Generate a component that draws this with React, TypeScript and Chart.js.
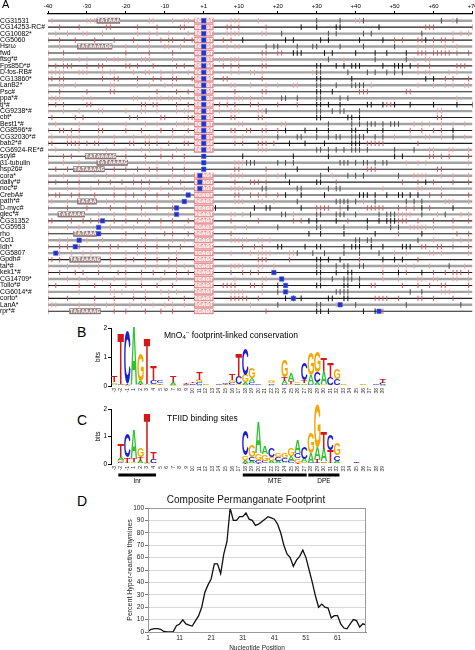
import React, { useEffect, useRef } from 'react';
import { Chart, registerables } from 'chart.js';
Chart.register(...registerables);

const FONT = '"Liberation Sans", Arial, Helvetica, sans-serif';

// ---------------- Panel A data ----------------
const genes = ['CG31531','CG14253-RC#','CG10082*','CG5060','Hsrω','fwd','ftsg*#','Fps85D*#','D-fos-RB#','CG13860*','LanB2*','Psc#','ppa*#','tj*#','CG9238*#','cbt*','Best1*#','CG8596*#','CG32030*#','bab2*#','CG6924-RE*#','scyl#','β1-tubulin','hsp26#','cora*','dally*#','noc*#','CrebA#','path*#','D-myc#','glec*#','CG31352','CG5953','rho','Cct1','Idh*','CG5807','Gpdh#','tai*#','kek1*#','CG14709*','Tollo*#','CG6014*#','corto*','LanA*','rpr*#'];

const axisPositions = [-40, -30, -20, -10, 1, 10, 20, 30, 40, 50, 60, 70];

const redTicks: number[][] = [
  [-39,-30,-29,-28,-14,-13,-8,-5,-4,8,9,10,15,40,41,65],
  [-37,-32,-25,-24,-17,-12,-6,-5,7,8,10,17,58,59,60,70],
  [-38,-35,-31,-30,-26,-17,-14,-12,-9,-4,7,8,9,10,16,17,65,67,69],
  [-40,-37,-33,-28,-23,-18,-14,-11,-9,-8,-5,-3,6,8,50,52,56,57,60,62,63,65],
  [-37,-20,-17,-14,-10,-9,-6,7,9,10,56,58,60,63,66],
  [-40,-36,-20,-14,-8,16,17,20,21,56,57,58,60,61,62,63,64,66,69],
  [-40,-36,-32,-30,-25,-23,-22,-20,-16,-15,-14,-8,5,6,8,9,10,16,17,37,55,58,59],
  [-40,-38,-36,-35,-34,-30,-27,-26,-20,-19,-17,-13,-7,-5,6,8,10,16,17,56,59,66,67,68],
  [-40,-39,-38,-37,-36,-32,-31,-30,-26,-24,-23,-18,-15,-14,-11,-8,-4,8,10,13,14,16,29,56,58,59,64,66],
  [-40,-39,-37,-36,-26,-23,-22,-17,-13,-11,-8,-7,-3,6,7,16,63,65,69],
  [-40,-37,-36,-33,-24,-23,-17,-14,-10,-8,8,9,13,17,20,24,25,44,56,60,63,65,68,69],
  [-40,-37,-30,-24,-23,-12,-7,-4,9,16,17,41,42,43,53,54],
  [-40,-39,-38,-37,-31,-29,-18,-17,-14,-12,-11,-9,-8,-6,7,9,10,11,13,16,66],
  [-40,-38,-36,-30,-29,-16,-15,-13,-12,-7,-4,5,7,9,13,15,20,25,48,49],
  [-40,-36,-32,-27,-26,-20,-16,-15,-12,-7,-5,-4,5,8,9,10,15,16,61,62],
  [-39,-33,-31,-19,-17,-11,-10,-4,-3,8,9,15,16,61,62],
  [-38,-32,-27,-20,-15,-12,-7,-5,-4,10,11,17,21,22,55,57,59,62,65,68],
  [-40,-37,-36,-34,-32,-27,-26,-20,-16,-11,-8,-4,8,9,12,13,16,17,20,54,57,60,62],
  [-39,-35,-34,-32,-27,-23,-18,-15,-14,-12,-8,-5,9,11,16,50,54,58,59,62,68],
  [-40,-39,-35,-34,-33,-32,-30,-28,-27,-23,-19,-18,-15,-14,-12,-9,-5,-4,9,11,15,16,17,19,43,44,45,46,47,56],
  [-38,-32,-25,-20,-16,-14,-11,-7,15,16,17,59,60,64,65,69],
  [-40,-36,-34,-20,-15,-11,-8,-5,59,60,62,64,69],
  [-40,-36,-32,-15,-12,-9,-5,9,10,11,53,56,58,69],
  [-38,-35,-23,-20,-17,-14,-12,-8,-5,9,10,17,43,44,45,61,62],
  [-40,-36,-32,-28,-25,-23,-18,-15,-12,-8,-5,8,9,10,11,17,20,34,55,56,57,58,62,65,69],
  [-40,-38,-35,-32,-27,-24,-21,-18,-16,-14,-9,-6,9,13,14,15,17,35,52,56,60,65,69],
  [-40,-35,-32,-29,-23,-20,-16,-14,-11,-8,-5,8,9,10,11,47,56,57,62],
  [-40,-38,-37,-34,-32,-28,-23,-20,-18,-15,-12,-9,9,10,13,15,17,20,59,62,69],
  [-40,-39,-35,-25,-23,-20,-17,-15,-12,-8,9,10,11,15,16,19,42,63,64,65,69],
  [-40,-35,-30,-24,-20,-16,-12,-8,30,31,32,33,36,43,44,45,46,47,51,53,55,59],
  [-27,-23,-20,-16,-15,-9,8,9,11,24,51,52,53,54,61,67,69],
  [-40,-39,-34,-31,-29,-27,-23,-20,-17,-14,-11,-8,-4,8,15,24,26,38,51,52,53,56,60,65,69],
  [-40,-35,-32,-24,-21,-18,-15,-11,-8,-5,9,12,54,55,56,57,58,60,65],
  [-40,-20,-15,-10,-8,-4,8,51,66,69],
  [-40,-37,-35,-30,-26,-21,-20,-16,-15,-12,-8,-5,8,9,10,11,12,15,16,18,60,65,67,69],
  [-40,-37,-35,-32,-27,-24,-22,-17,-15,-12,-9,-6,11,14,16,57,58,61,62,65,69],
  [-37,-34,-31,-29,-24,-20,-17,-15,-12,-7,8,13,15,16,17,18,23,24,50,53,59,60,62,69],
  [-40,-39,-37,-24,-20,-18,-15,-12,-9,-7,15,16,17,23,41,56],
  [-40,-35,-32,-27,-24,-20,-15,-12,-9,-7,-5,8,9,10,11,15,16,19,47,51,53,55,59,68],
  [-40,-37,-33,-31,-27,-22,-20,-16,-13,-10,-7,-4,8,11,13,15,47,53,60,63,65,66,67,69],
  [-40,-35,-32,-30,-26,-23,-20,-16,-11,-7,9,16,17,47,51,56,57,60,61,65,66,69],
  [-40,-38,-32,-28,-24,-20,-16,-12,-8,6,7,8,9,13,14,16,44,45,52,56,59,62,63,69],
  [-40,-32,-24,-23,-21,-18,-15,-11,-9,-7,8,9,10,11,16,62,63,64,69],
  [-40,-35,-28,-23,-18,-15,-9,-5,8,9,10,11,12,15,45,46,47,48,51,56,57,60,65],
  [-40,-39,-38,-32,-28,-25,-23,-19,-16,-13,-10,-8,-5,13,35],
  [-40,-23,-20,-15,-11,-8,17,47],
];

const blackTicks: number[][] = [
  [30,36,42,62,66],
  [26,30,35,36,46],
  [21,33,35,42,44,57],
  [11,22,24,31,33,41,47,58],
  [17,19,20,25,29,30,36,42,50],
  [24,25,26,32,34,40,45,48,53],
  [33,45,53],
  [30,31,35,37,39,40,41,47,50,51,52,54],
  [30,31,38,43,45,48,50,52],
  [30,31,39,58,60],
  [30,31,35,39,40,41,42],
  [30,31,34],
  [21,22,25,30,31,36,38],
  [30,31,33,36,43,44,47,50,54,60,66,70],
  [17,30,31,34,36,37,41],
  [30,31,38,39,41],
  [33,39,41,43,44,45,47,49,50,51],
  [22,27,30,33,39,40,43,47,65],
  [20,25,26,30,33,35,36,39,40,41,42,45,47,65],
  [23,27,32,39,40,41],
  [30,31,33,35,37,39,40,41,43,50,55],
  [11,24,33,50,52],
  [12,13,14,20,22,24,36,37,38,40,42,43,45,47,48],
  [25,33],
  [22,31,38,40,42,51],
  [23,30,31,58],
  [16,17,25,26,33,35,36],
  [22,26,32,41,42,43,45,48,51,52,54,56],
  [25,35,36,37,38,40,45,53,55,57],
  [4,14,17,18,26,38,57,65],
  [13,21,22,30,31,35,36,37,40,46,48,49,50,57,63],
  [28,30,35,43,46,48,49,50],
  [20,30,31,37,43,49,51],
  [28,31,37,45,57],
  [40,41,43,44,56],
  [20,21,27,30,31,37,39,40,41,44,47,52,53,54],
  [25,29,32,37,41,46],
  [30,31,33,36,47,50,52],
  [30,31,35,37,38,41,42,64],
  [30,31,35,38,39,51,57],
  [31,34,37,38,39,41],
  [20,30,31,37,38,41],
  [20,35,36,37,38,54,57],
  [22,24,26,33,34,37,38],
  [20,30,31,40,53,67],
  [30,31,33,42,45],
];

const bluePos: (number | null)[] = [
  1,1,1,1,1,1,1,1,1,1,1,1,1,1,1,1,1,1,1,1,1,1,1,1,
  -1,-1,-1,-4,-5,-7,-7,-26,-27,-27,-32,-33,-38,null,null,19,21,22,22,24,36,46,
];

const inrSpan = [-2, 3];
const inrSeq = 'TCAGT';
const rowsWithoutInr = [21, 22, 23];
const tataBoxes: number[][] = [
  [0,-27,-22],[4,-32,-24],[21,-30,-23],[22,-27,-20],[23,-33,-26],
  [28,-32,-28],[30,-37,-31],[33,-33,-28],[37,-34,-27],[45,-34,-27],
];
const tataSeq = 'TATAAAAGGC';

// ---------------- Panels B / C data ----------------
const logoPositions = ['-3','-2','-1','1','2','3','4','5','6','7','8','9','10','11','12','13','14','15','16','17','18','19','20','21','22','23','24','25','26','27','28','29','30','31','32','33','34','35','36','37','38','39'];

const bA = [.05,.02,.02,2.0,.1,.06,.02,.02,.01,.1,.01,.01,.02,.04,.02,0,.01,.02,.02,.02,.1,.15,.01,0,.03,.01,.12,.25,.04,.06,.3,.1,.45,.02,.02,.02,0,.01,.02,.01,.01,.04];
const bC = [.03,.02,1.8,0,.02,0,.15,.07,.01,.01,.01,.04,.04,.08,.01,0,.02,.04,.08,.25,.9,.1,.02,0,.05,.01,.06,.02,.03,.6,.05,.35,.03,.27,.2,.01,0,.01,.01,.01,.02,.07];
const bG = [.05,.03,.01,.02,.95,.02,.04,.06,.01,.02,.01,.02,.03,.1,.03,0,.01,.03,.1,.03,.25,.37,.01,0,.07,.01,.6,.05,.05,.05,.75,.7,.03,.02,.35,.03,0,.01,.03,.01,.01,.01];
const bT = [.22,1.75,.05,0,.05,1.58,.5,.02,.01,.2,.01,.05,.06,.25,.01,0,.01,.02,.22,.8,.02,.03,.01,0,.01,.01,.12,.1,.02,.1,.02,.02,.45,.5,.02,.01,0,.01,.01,.01,.01,.15];

const cA = [.01,.1,.03,1.05,.07,.02,.02, 0,0,0,0,0,0,0,0,0,0,0,0, .01,.1,.1,1.15,.3,.1,.08,.06,.2,.45,.12,.35,.4,.45,.03,.1, 0,0,.01,0,0,0,0];
const cC = [.01,.07,.85,.02,.03,.01,.12, 0,0,0,0,0,0,0,0,0,0,0,0, .01,.9,.12,.1,.08,.32,.15,.12,.08,.2,.45,.03,.05,.05,.55,.2, 0,0,.02,0,0,0,0];
const cG = [.01,.08,.02,.05,.32,.02,.02, 0,0,0,0,0,0,0,0,0,0,0,0, .01,.15,.45,.25,.25,.12,.16,.18,.3,.15,.05,.75,1.6,.05,.02,.45, 0,0,.01,0,0,0,0];
const cT = [.01,.45,.2,.15,.15,1.8,.3, 0,0,0,0,0,0,0,0,0,0,0,0, .01,.05,.02,.04,.02,.02,.02,.02,.02,.05,.02,.02,.15,.6,.45,.02, 0,0,.02,0,0,0,0];

const cMotifs = [
  { name: 'Inr', from: '-2', to: '4' },
  { name: 'MTE', from: '18', to: '27' },
  { name: 'DPE', from: '28', to: '32' },
];

const letterColors: Record<string, string> = { A: '#2fc42f', C: '#1d1dd8', G: '#f5a700', T: '#d21818' };

// ---------------- Panel D data ----------------
const nucleotides = Array.from({ length: 70 }, (_, i) => i + 1);
const footprint = [0.5,2.2,2.8,2.7,2.2,0.4,0,0,0.3,5,6.5,9.8,6.5,5.5,4.8,9,13,20,32,38,43,55,55,47,63,73,100,90,90,93,93,96,91,90,86,87,89,91,93,92,91,87,80,70,63,60,53,58,61,66,60,50,40,29,20,22.5,20,19.3,11.4,13.2,13.2,6.6,3.2,2.6,6.6,10,9.2,4,6.6,5.8];

// ---------------- helpers ----------------
const toU = (p: number) => (p < 0 ? p : p - 1);
const uLabel = (u: number) => (u < 0 ? String(u) : '+' + (u + 1));

function useChart(build: (c: HTMLCanvasElement) => any) {
  const ref = useRef<HTMLCanvasElement>(null);
  useEffect(() => {
    if (!ref.current) return;
    const chart = build(ref.current);
    return () => chart.destroy();
  }, []);
  return ref;
}

function Cnv({ r, left, top, w, h }: any) {
  return <canvas ref={r} width={w} height={h} style={{ position: 'absolute', left, top, width: w, height: h }} />;
}

function Txt({ x, y, size, children, weight }: any) {
  return (
    <div style={{ position: 'absolute', left: x, top: y - 0.8465 * size, fontSize: size, lineHeight: 1, whiteSpace: 'nowrap', color: '#000', fontFamily: FONT, fontWeight: weight || 'normal' }}>
      {children}
    </div>
  );
}

// ---------------- Panel A ----------------
function PanelA() {
  const W = 484, H = 320;
  const ref = useChart((canvas) => {
    const rowLines = genes.map((g, i) => ({
      label: g,
      data: [{ x: -40, y: i }, { x: 69, y: i }],
      showLine: true,
      borderColor: i % 2 === 0 ? '#a3a3a3' : '#1e1e1e',
      borderWidth: i % 2 === 0 ? 2.4 : 1.1,
      pointRadius: 0,
      order: 20,
    }));
    const tickSet = (src: number[][], parity: number, color: string, r: number) => ({
      data: src.flatMap((row, i) => (i % 2 === parity ? row.map((p) => ({ x: toU(p), y: i })) : [])),
      pointStyle: 'line', rotation: 90, pointRadius: r, borderColor: color, backgroundColor: color,
      borderWidth: 1, showLine: false, order: 10,
    });
    const blueIndex = genes.length + 4;
    const datasets: any[] = [
      ...rowLines,
      tickSet(redTicks, 0, '#efa2a2', 2.6),
      tickSet(redTicks, 1, '#d65656', 2.6),
      tickSet(blackTicks, 0, '#4a4a4a', 2.8),
      tickSet(blackTicks, 1, '#111111', 2.8),
      {
        data: bluePos.map((p, i) => (p === null ? null : { x: toU(p), y: i })).filter(Boolean),
        pointStyle: 'rect', pointRadius: 3.1, backgroundColor: '#1f33c6', borderColor: '#4459e0',
        borderWidth: 0.6, showLine: false, order: 0,
      },
    ];
    const boxes = {
      id: 'promoterBoxes',
      beforeDatasetDraw(chart: any, args: any) {
        if (args.index !== blueIndex) return;
        const { ctx } = chart;
        const x = chart.scales.x, y = chart.scales.y;
        const draw = (row: number, from: number, to: number, seq: string, fill: string, stroke: string) => {
          const x0 = x.getPixelForValue(toU(from) - 0.5), x1 = x.getPixelForValue(toU(to) + 0.5);
          const y0 = y.getPixelForValue(row - 0.44), y1 = y.getPixelForValue(row + 0.44);
          ctx.fillStyle = fill;
          ctx.fillRect(x0, y0, x1 - x0, y1 - y0);
          ctx.strokeStyle = stroke;
          ctx.lineWidth = 1;
          ctx.strokeRect(x0 + 0.5, y0 + 0.5, x1 - x0 - 1, y1 - y0 - 1);
          ctx.fillStyle = '#ffffff';
          ctx.font = `bold 4.6px ${FONT}`;
          ctx.textAlign = 'center';
          ctx.textBaseline = 'middle';
          let k = 0;
          for (let p = from; p <= to; p++) {
            if (p === 0) continue;
            ctx.fillText(seq[k++] || '', x.getPixelForValue(toU(p)), (y0 + y1) / 2 + 0.3);
          }
        };
        ctx.save();
        genes.forEach((_, row) => {
          if (!rowsWithoutInr.includes(row)) draw(row, inrSpan[0], inrSpan[1], inrSeq, '#f2c0c0', '#e38787');
        });
        tataBoxes.forEach(([row, from, to]) => draw(row, from, to, tataSeq, '#ab9595', '#8a7272'));
        ctx.restore();
      },
    };
    return new Chart(canvas, {
      type: 'scatter',
      data: { datasets },
      options: {
        animation: false, responsive: false, events: [],
        layout: { padding: { left: 0, right: W - 472.5, top: 0, bottom: 5.5 } },
        plugins: { legend: { display: false }, tooltip: { enabled: false } },
        scales: {
          x: {
            type: 'linear', position: 'top', min: -40, max: 69,
            afterBuildTicks: (s: any) => { s.ticks = axisPositions.map((p) => ({ value: toU(p) })); },
            ticks: { callback: (v: any) => uLabel(v), font: { size: 6, family: FONT }, color: '#000', padding: 1, maxRotation: 0, autoSkip: false },
            grid: { drawOnChartArea: false, drawTicks: true, tickLength: 3, color: '#000', lineWidth: 1 },
            border: { display: true, color: '#000', width: 1.2 },
            afterFit: (s: any) => { s.height = 14; },
          },
          y: {
            type: 'linear', reverse: true, min: -1.04, max: 45.5,
            afterBuildTicks: (s: any) => { s.ticks = genes.map((_, i) => ({ value: i })); },
            ticks: { callback: (v: any) => genes[v], font: { size: 6.8, family: FONT }, color: '#000', autoSkip: false, crossAlign: 'far', padding: 0 },
            grid: { display: false, drawTicks: false }, border: { display: false },
            afterFit: (s: any) => { s.width = 48; },
          },
        },
      },
      plugins: [boxes],
    } as any);
  });
  return <Cnv r={ref} left={0} top={0} w={W} h={H} />;
}

// ---------------- Panels B / C ----------------
function drawLetter(ctx: any, L: string, x: number, y: number, w: number, h: number) {
  ctx.save();
  ctx.font = `bold 100px ${FONT}`;
  ctx.textAlign = 'left';
  ctx.textBaseline = 'alphabetic';
  const m = ctx.measureText(L);
  const gw = m.actualBoundingBoxLeft + m.actualBoundingBoxRight;
  const gh = m.actualBoundingBoxAscent + m.actualBoundingBoxDescent;
  ctx.translate(x, y + h);
  ctx.scale(w / gw, h / gh);
  ctx.fillStyle = letterColors[L];
  ctx.fillText(L, m.actualBoundingBoxLeft, -m.actualBoundingBoxDescent);
  ctx.restore();
}

function Logo({ A, C, G, T, top, height, padBottom, motifs }: any) {
  const W = 300;
  const ref = useChart((canvas) => {
    const letters = ['A', 'C', 'G', 'T'];
    const arrs = [A, C, G, T];
    const cols = logoPositions.map((_, i) => letters.map((L, j) => ({ L, h: arrs[j][i] })).sort((a, b) => a.h - b.h));
    const datasets = [0, 1, 2, 3].map((r) => ({
      data: cols.map((c) => c[r].h),
      letters: cols.map((c) => c[r].L),
      backgroundColor: 'rgba(0,0,0,0)', borderWidth: 0,
      barPercentage: 0.97, categoryPercentage: 1, stack: 's',
    }));
    const letterPlugin = {
      id: 'letters',
      afterDatasetsDraw(chart: any) {
        const { ctx } = chart;
        chart.data.datasets.forEach((ds: any, di: number) => {
          const meta = chart.getDatasetMeta(di);
          meta.data.forEach((bar: any, j: number) => {
            const p = bar.getProps(['x', 'y', 'base', 'width'], true);
            const h = p.base - p.y;
            if (h < 0.35) return;
            drawLetter(ctx, ds.letters[j], p.x - p.width / 2, p.y, p.width, h);
          });
        });
        if (motifs) {
          const x = chart.scales.x;
          const half = x.width / logoPositions.length / 2;
          const yb = chart.chartArea.bottom + 11;
          ctx.save();
          ctx.fillStyle = '#000';
          ctx.font = `6.5px ${FONT}`;
          ctx.textAlign = 'center';
          ctx.textBaseline = 'top';
          motifs.forEach((m: any) => {
            const x0 = x.getPixelForValue(logoPositions.indexOf(m.from)) - half + 0.8;
            const x1 = x.getPixelForValue(logoPositions.indexOf(m.to)) + half - 0.8;
            ctx.fillRect(x0, yb - 1.5, x1 - x0, 3);
            ctx.fillText(m.name, (x0 + x1) / 2, yb + 3);
          });
          ctx.restore();
        }
      },
    };
    return new Chart(canvas, {
      type: 'bar',
      data: { labels: logoPositions, datasets },
      options: {
        animation: false, responsive: false, events: [],
        layout: { padding: { left: 0, right: W - 17 - 275.1, top: 6, bottom: padBottom } },
        plugins: { legend: { display: false }, tooltip: { enabled: false } },
        scales: {
          x: {
            stacked: true,
            ticks: { autoSkip: false, minRotation: 90, maxRotation: 90, font: { size: 5, family: FONT }, color: '#333', padding: 2 },
            grid: { display: false, drawTicks: false }, border: { display: false },
            afterFit: (s: any) => { s.height = 11; },
          },
          y: {
            stacked: true, min: 0, max: 2,
            ticks: { stepSize: 1, font: { size: 6.5, family: FONT }, color: '#000', padding: 1 },
            grid: { drawOnChartArea: false, tickLength: 3, tickColor: '#000' },
            border: { display: true, color: '#000', width: 1 },
            title: { display: true, text: 'bits', font: { size: 6.5, family: FONT }, color: '#000', padding: 0 },
            afterFit: (s: any) => { s.width = 17; },
          },
        },
      },
      plugins: [letterPlugin],
    } as any);
  });
  return <Cnv r={ref} left={94} top={top} w={W} h={height} />;
}

// ---------------- Panel D ----------------
function PanelD() {
  const W = 272, H = 160;
  const ref = useChart((canvas) => {
    const frame = {
      id: 'frame',
      afterDraw(chart: any) {
        const { ctx, chartArea: a } = chart;
        ctx.save();
        ctx.strokeStyle = '#9a9a9a';
        ctx.lineWidth = 1;
        ctx.strokeRect(a.left + 0.5, a.top + 0.5, a.right - a.left - 1, a.bottom - a.top);
        ctx.restore();
      },
    };
    return new Chart(canvas, {
      type: 'line',
      data: {
        labels: nucleotides,
        datasets: [{ data: footprint, borderColor: '#111', borderWidth: 1.3, pointRadius: 0, tension: 0, fill: false }],
      },
      options: {
        animation: false, responsive: false, events: [],
        layout: { padding: { left: 0, right: W - 22 - 218, top: 0, bottom: 0 } },
        plugins: {
          legend: { display: false }, tooltip: { enabled: false },
          title: { display: true, text: 'Composite Permanganate Footprint', font: { size: 10, family: FONT, weight: 'normal' }, color: '#111', padding: { top: 2, bottom: 2 } },
        },
        scales: {
          x: {
            ticks: { autoSkip: false, maxRotation: 0, font: { size: 6.5, family: FONT }, color: '#222', padding: 2,
              callback: (v: any, i: number) => (i % 10 === 0 ? String(nucleotides[i]) : '') },
            grid: { display: false, drawTicks: false }, border: { color: '#8a8a8a' },
            title: { display: true, text: 'Nucleotide Position', font: { size: 6.5, family: FONT }, color: '#222', padding: { top: 1, bottom: 0 } },
            afterFit: (s: any) => { s.height = 20; },
          },
          y: {
            min: 0, max: 100,
            ticks: { stepSize: 10, font: { size: 6.5, family: FONT }, color: '#222', padding: 1 },
            grid: { color: '#d8d8d8', tickLength: 3, tickColor: '#777' },
            border: { color: '#8a8a8a' },
            title: { display: true, text: 'Percent Hyper-reactive thymines', font: { size: 7, family: FONT }, color: '#222', padding: 0 },
            afterFit: (s: any) => { s.width = 22; },
          },
        },
      },
      plugins: [frame],
    } as any);
  });
  return <Cnv r={ref} left={126} top={492} w={W} h={H} />;
}

export default function App() {
  return (
    <div style={{ position: 'fixed', left: 0, top: 0, width: 475, height: 650, overflow: 'hidden', background: '#fff', fontFamily: FONT }}>
      <PanelA />
      <Logo A={bA} C={bC} G={bG} T={bT} top={322} height={75} padBottom={0} />
      <Logo A={cA} C={cC} G={cG} T={cT} top={403} height={88} padBottom={16} motifs={cMotifs} />
      <PanelD />
      <Txt x={2} y={8.5} size={11}>A</Txt>
      <Txt x={77} y={337} size={14}>B</Txt>
      <Txt x={77} y={425} size={14}>C</Txt>
      <Txt x={77} y={506} size={14}>D</Txt>
      <Txt x={164} y={338} size={8.5}>
        MnO<span style={{ fontSize: 6, position: 'relative', top: 1.5 }}>4</span>
        <span style={{ fontSize: 6, position: 'relative', top: -3.5 }}>−</span> footprint-linked conservation
      </Txt>
      <Txt x={167} y={421.5} size={8.5}>TFIID binding sites</Txt>
    </div>
  );
}
